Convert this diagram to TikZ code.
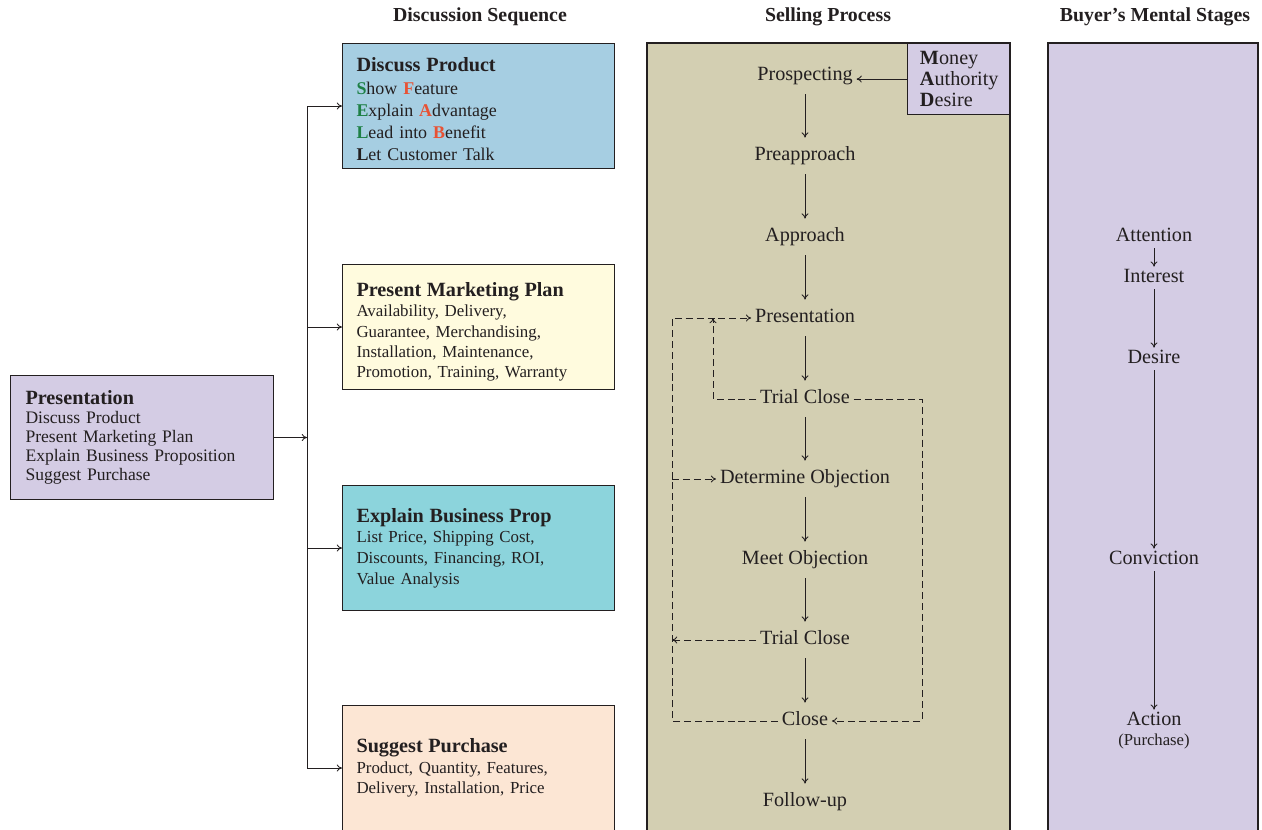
\documentclass[tikz,border=0pt]{standalone}
\usepackage{fontspec}
\setmainfont{Liberation Serif}
\usetikzlibrary{positioning,calc,arrows.meta}

\definecolor{ink}{RGB}{35,31,32}
\definecolor{lav}{RGB}{212,204,228}
\definecolor{skyb}{RGB}{166,206,226}
\definecolor{cream}{RGB}{255,251,222}
\definecolor{teal}{RGB}{140,212,220}
\definecolor{peach}{RGB}{252,230,212}
\definecolor{tan}{RGB}{211,207,178}
\definecolor{sgreen}{RGB}{30,128,70}
\definecolor{sred}{RGB}{232,82,52}

\newcommand\boxhead[1]{{\fontsize{11.5}{14}\selectfont\bfseries #1}}

\begin{document}
\begin{tikzpicture}[x=0.02cm,y=-0.02cm,
    every node/.style={text=ink},
    box/.style={draw=ink,line width=0.6pt,anchor=north west,align=left,
      minimum width=5.44cm,minimum height=2.5cm,text width=4.88cm,inner xsep=0.28cm,inner ysep=0pt},
    head/.style={font=\fontsize{11.3}{13}\selectfont\bfseries},
    stage/.style={font=\fontsize{11.5}{14}\selectfont,inner xsep=2pt,inner ysep=5pt,text height=8pt,text depth=2.5pt},
    mental/.style={font=\fontsize{11.5}{14}\selectfont,inner xsep=2pt,inner ysep=1pt,text height=8pt,text depth=2.5pt},
    flow/.style={draw=ink,line width=0.5pt,-{To[length=3pt,width=4pt]}},
    dflow/.style={flow,dash pattern=on 4pt off 2.2pt}]
  \useasboundingbox (0,0) rectangle (1262,829);
  \clip (0,0) rectangle (1262,829);

  \node[head] (hdisc) at (480,17) {Discussion Sequence};
  \node[head] (hsell) at (828,17) {Selling Process};
  \node[head] (hbuy) at (1155,17) {Buyer's Mental Stages};

  \node[box,fill=lav,minimum width=5.26cm,minimum height=2.48cm,text width=4.66cm,inner xsep=0.3cm,
    font=\fontsize{10}{10.8}\selectfont] (presbox) at (10,375)
    {\boxhead{Presentation}\\Discuss Product\\Present Marketing Plan\\Explain Business Proposition\\Suggest Purchase};

  \node[box,fill=skyb,font=\fontsize{10.2}{12.5}\selectfont] (dp) at (342,43)
    {\boxhead{\rule{0pt}{11.4pt}Discuss Product}\\[1pt]
     \textbf{\color{sgreen}S}how \textbf{\color{sred}F}eature\\
     \textbf{\color{sgreen}E}xplain \textbf{\color{sred}A}dvantage\\
     \textbf{\color{sgreen}L}ead into \textbf{\color{sred}B}enefit\\
     \textbf{L}et Customer Talk};
  \node[box,fill=cream,font=\fontsize{9.6}{11.6}\selectfont] (pmp) at (342,264)
    {\boxhead{\rule{0pt}{13.7pt}Present Marketing Plan}\\Availability, Delivery,\\Guarantee, Merchandising,\\Installation, Maintenance,\\Promotion, Training, Warranty};
  \node[box,fill=teal,font=\fontsize{9.6}{11.8}\selectfont] (ebp) at (342,485)
    {\boxhead{Explain Business Prop}\\List Price, Shipping Cost,\\Discounts, Financing, ROI,\\Value Analysis};
  \node[box,fill=peach,font=\fontsize{9.6}{11.8}\selectfont] (spur) at (342,705)
    {\boxhead{Suggest Purchase}\\Product, Quantity, Features,\\Delivery, Installation, Price};

  \coordinate (bus) at (307,0);
  \draw[flow] (presbox.east) -- (bus |- presbox.east);
  \draw[draw=ink,line width=0.5pt] (bus |- dp.west) -- (bus |- spur.west);
  \draw[flow] (bus |- dp.west) -- (dp.west);
  \draw[flow] (bus |- pmp.west) -- (pmp.west);
  \draw[flow] (bus |- ebp.west) -- (ebp.west);
  \draw[flow] (bus |- spur.west) -- (spur.west);

  \draw[draw=ink,line width=0.6pt,fill=tan] (647,43) rectangle (1010,845);
  \draw[draw=ink,line width=0.6pt,fill=lav] (1048,43) rectangle (1258,845);

  \node[draw=ink,line width=0.6pt,fill=lav,anchor=north east,align=left,
    minimum width=2.04cm,minimum height=1.42cm,text width=1.54cm,inner xsep=0.24cm,inner ysep=0pt,
    font=\fontsize{11.5}{12.2}\selectfont] (mad) at (1010,43)
    {\textbf{M}oney\\\textbf{A}uthority\\\textbf{D}esire};

  \node[stage] (prosp) at (805,76) {Prospecting};
  \node[stage] (preapp) at (805,156) {Preapproach};
  \node[stage] (appr) at (805,237) {Approach};
  \node[stage] (pres) at (805,318) {Presentation};
  \node[stage] (tca) at (805,399) {Trial Close};
  \node[stage] (detobj) at (805,479) {Determine Objection};
  \node[stage] (meetobj) at (805,560) {Meet Objection};
  \node[stage] (tcb) at (805,640) {Trial Close};
  \node[stage] (close) at (805,721) {Close};
  \node[stage] (follow) at (805,802) {Follow-up};

  \draw[flow] (mad.west) -- (mad.west -| prosp.east);
  \draw[flow] (prosp) -- (preapp);
  \draw[flow] (preapp) -- (appr);
  \draw[flow] (appr) -- (pres);
  \draw[flow] (pres) -- (tca);
  \draw[flow] (tca) -- (detobj);
  \draw[flow] (detobj) -- (meetobj);
  \draw[flow] (meetobj) -- (tcb);
  \draw[flow] (tcb) -- (close);
  \draw[flow] (close) -- (follow);

  \coordinate (lx) at (672,0);
  \coordinate (ix) at (713,0);
  \coordinate (rx) at (922,0);
  \draw[dflow] (tca.west) -| (ix |- pres);
  \draw[dflow] (close.west) -| (lx |- pres) -- (pres.west);
  \draw[dflow] (lx |- detobj) -- (detobj.west);
  \draw[dflow] (tcb.west) -- (lx |- tcb);
  \draw[dflow] (tca.east) -| (rx |- close) -- (close.east);

  \node[mental] (attn) at (1154,237) {Attention};
  \node[mental] (inter) at (1154,278) {Interest};
  \node[mental] (desire) at (1154,359) {Desire};
  \node[mental] (conv) at (1154,560) {Conviction};
  \node[mental] (action) at (1154,721) {Action};
  \node[font=\fontsize{9.5}{11}\selectfont,inner sep=0pt] (purch) at (1154,741) {(Purchase)};

  \draw[flow] (attn) -- (inter);
  \draw[flow] (inter) -- (desire);
  \draw[flow] (desire) -- (conv);
  \draw[flow] (conv) -- (action);
\end{tikzpicture}
\end{document}
